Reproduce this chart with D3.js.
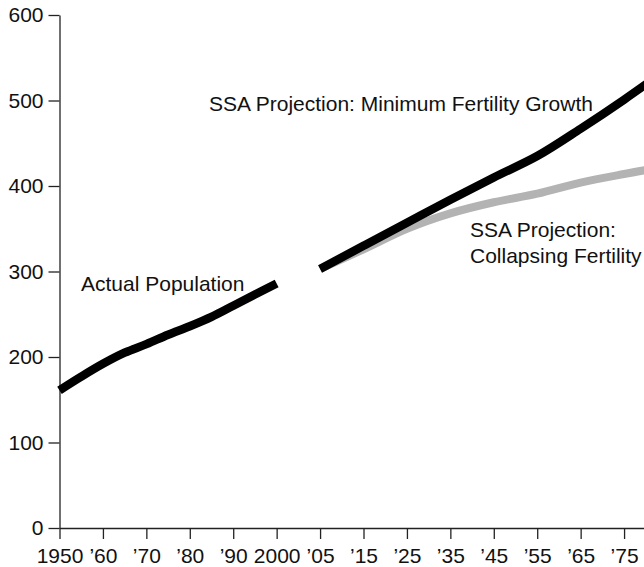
<!DOCTYPE html>
<html lang="en">
<head>
  <meta charset="utf-8">
  <title>US Population and SSA Projections</title>
  <style>
    body { margin: 0; background: #fff; }
    svg text { font-family: "Liberation Sans", Arial, sans-serif; fill: #111; }
  </style>
</head>
<body>
  <script src="https://cdn.jsdelivr.net/npm/d3@7/dist/d3.min.js"></script>
  <script>
    var width = 644;
    var height = 567;

    // tick positions (plot years) and the labels printed under them
    var tickYears = [1950, 1960, 1970, 1980, 1990, 2000, 2010, 2020, 2030, 2040, 2050, 2060, 2070, 2080];
    var tickLabels = ["1950", "\u201960", "\u201970", "\u201980", "\u201990", "2000", "\u201905",
                      "\u201915", "\u201925", "\u201935", "\u201945", "\u201955", "\u201965", "\u201975"];
    var yTicks = [0, 100, 200, 300, 400, 500, 600];

    // actual population (millions)
    var actualYears = [1950, 1955, 1960, 1965, 1970, 1975, 1980, 1985, 1990, 1995, 2000];
    var actualValues = [161, 177, 192, 205, 215, 226, 236, 247, 260, 273, 286];

    // SSA projections
    var projYears = [2010, 2020, 2030, 2040, 2050, 2060, 2070, 2080, 2090];
    var minFertility = [303, 330, 357, 384, 410, 435, 467, 501, 537];
    var collapsing = [303, 326, 350, 368, 381, 391, 404, 414, 423];

    var svg = d3.select("body").append("svg")
      .attr("width", width)
      .attr("height", height);

    var x = d3.scaleLinear().domain([1950, 2090]).range([59.5, 667.5]);
    var y = d3.scaleLinear().domain([0, 600]).range([528, 15]);

    // axes
    var xAxis = d3.axisBottom(x)
      .tickValues(tickYears)
      .tickFormat(function(d, i) { return tickLabels[i]; })
      .tickSize(11)
      .tickSizeOuter(0)
      .tickPadding(9);

    var yAxis = d3.axisLeft(y)
      .tickValues(yTicks)
      .tickSize(11)
      .tickSizeOuter(0)
      .tickPadding(5);

    svg.append("g")
      .attr("transform", "translate(0," + y(0) + ")")
      .call(xAxis);

    svg.append("g")
      .attr("transform", "translate(" + x(1950) + ",0)")
      .call(yAxis);

    svg.selectAll(".domain, .tick line")
      .attr("stroke", "#222")
      .attr("stroke-width", 1.3);
    svg.selectAll(".tick text")
      .attr("font-size", 21)
      .attr("font-family", "Liberation Sans, Arial, sans-serif")
      .attr("fill", "#111");

    // lines
    var line = d3.line()
      .x(function(d) { return x(d[0]); })
      .y(function(d) { return y(d[1]); })
      .curve(d3.curveCatmullRom.alpha(0.5));

    var actual = d3.zip(actualYears, actualValues);
    var minF = d3.zip(projYears, minFertility);
    var coll = d3.zip(projYears, collapsing);

    svg.append("path")
      .attr("d", line(coll))
      .attr("fill", "none")
      .attr("stroke", "#b3b3b3")
      .attr("stroke-width", 8);

    svg.append("path")
      .attr("d", line(minF))
      .attr("fill", "none")
      .attr("stroke", "#000")
      .attr("stroke-width", 8.5);

    svg.append("path")
      .attr("d", line(actual))
      .attr("fill", "none")
      .attr("stroke", "#000")
      .attr("stroke-width", 8.5);

    // labels
    var labels = [
      { text: "Actual Population", x: 81, y: 291 },
      { text: "SSA Projection: Minimum Fertility Growth", x: 209, y: 111 },
      { text: "SSA Projection:", x: 470, y: 237 },
      { text: "Collapsing Fertility", x: 470, y: 263 }
    ];

    svg.selectAll(".label")
      .data(labels)
      .enter().append("text")
      .attr("class", "label")
      .attr("x", function(d) { return d.x; })
      .attr("y", function(d) { return d.y; })
      .attr("font-size", 21)
      .text(function(d) { return d.text; });
  </script>
</body>
</html>
